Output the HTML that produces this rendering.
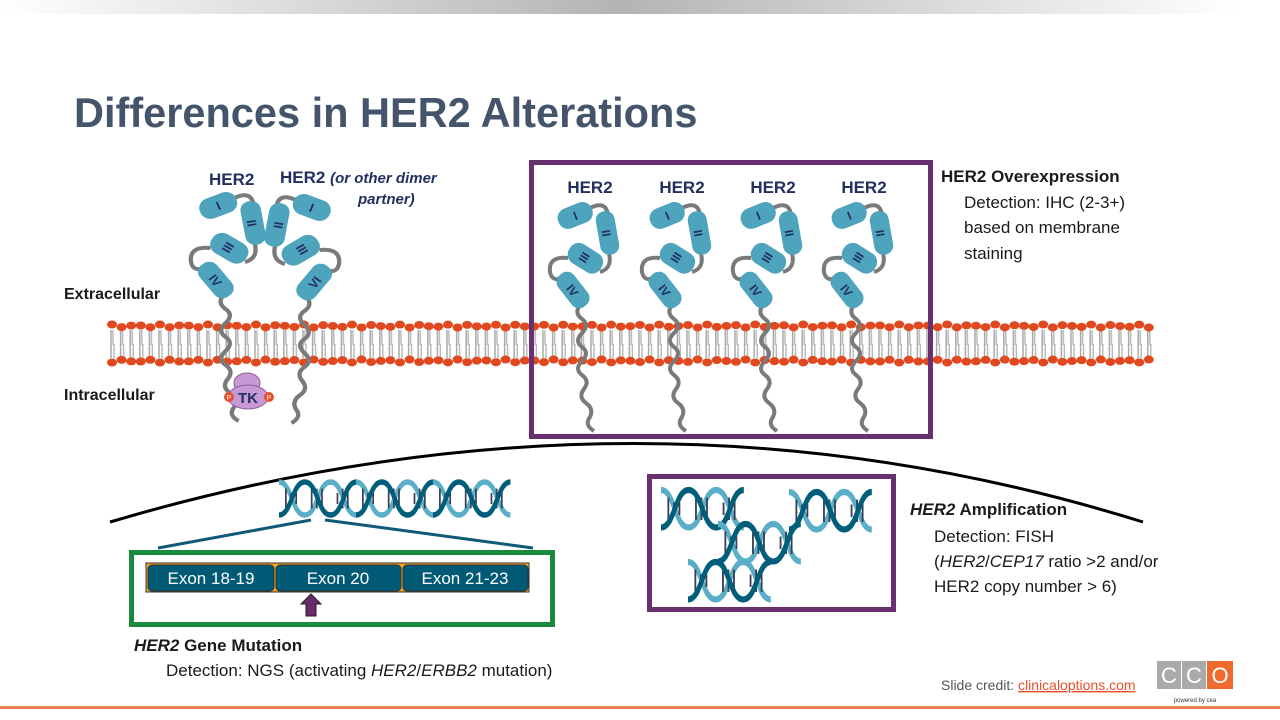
<!DOCTYPE html>
<html><head><meta charset="utf-8"><style>
body{margin:0;width:1280px;height:720px;overflow:hidden;background:#fff;font-family:"Liberation Sans",sans-serif}
svg{position:absolute;left:0;top:0}
</style></head><body>
<svg id="s" width="1280" height="720" viewBox="0 0 1280 720" xmlns="http://www.w3.org/2000/svg" font-family="Liberation Sans, sans-serif">
<defs>
<linearGradient id="tg" x1="0" x2="1"><stop offset="0" stop-color="#fff"/><stop offset="0.5" stop-color="#b4b4b4"/><stop offset="1" stop-color="#fff"/></linearGradient>
<g id="rec">
 <path d="M590 208 Q606 200 608 215 M608 250 Q614 268 600 272 M568 258 Q548 256 550 272 Q552 282 562 278" fill="none" stroke="#7a7a7a" stroke-width="4"/>
 <path d="M580 305 q-6 8 2 14 q8 6 0 14 q-8 8 0 14 q8 6 0 14 q-8 8 0 14 q8 6 2 14 q-6 8 2 14 q8 6 4 14 q-6 8 4 14" fill="none" stroke="#7a7a7a" stroke-width="4"/>
 <rect x="557" y="205" width="36" height="21" rx="10" fill="#4ea3bd" transform="rotate(-22 575 215)"/>
 <rect x="598" y="211" width="19" height="44" rx="9" fill="#4ea3bd" transform="rotate(-10 607 233)"/>
 <rect x="567" y="247" width="37" height="22" rx="10" fill="#4ea3bd" transform="rotate(32 585 258)"/>
 <rect x="563" y="270" width="20" height="40" rx="9" fill="#4ea3bd" transform="rotate(-38 573 290)"/>
 <text x="575" y="220" font-size="12" font-weight="bold" fill="#23305f" text-anchor="middle" transform="rotate(-22 575 215)">I</text>
 <text x="607" y="238" font-size="12" font-weight="bold" fill="#23305f" text-anchor="middle" transform="rotate(80 607 233)">II</text>
 <text x="585" y="263" font-size="12" font-weight="bold" fill="#23305f" text-anchor="middle" transform="rotate(122 585 258)">III</text>
 <text x="573" y="295" font-size="12" font-weight="bold" fill="#23305f" text-anchor="middle" transform="rotate(52 573 290)">IV</text>
</g>
<g id="dna">
 <path d="M0 0 C15 0 15 30 30 30 S45 0 60 0 S75 30 90 30" fill="none" stroke="#5aaec8" stroke-width="5"/>
 <g stroke="#3a3f55" stroke-width="2"><path d="M8 6v18M14 10v10M20 10v10M38 6v18M44 6v18M50 6v18M68 10v10M74 6v18M80 6v18"/></g>
 <path d="M0 30 C15 30 15 0 30 0 S45 30 60 30 S75 0 90 0" fill="none" stroke="#005e7a" stroke-width="5"/>
</g>
</defs>
<rect x="0" y="0" width="1240" height="14" fill="url(#tg)"/>
<text x="74" y="127" font-size="41.5" font-weight="bold" fill="#44546a">Differences in HER2 Alterations</text>
<g id="mem"></g>
<text x="64" y="299" font-size="16" font-weight="bold" fill="#1a1a1a">Extracellular</text>
<text x="64" y="400" font-size="16" font-weight="bold" fill="#1a1a1a">Intracellular</text>
<text x="209" y="185" font-size="17" font-weight="bold" fill="#23305f">HER2</text>
<text x="280" y="183" font-size="17" font-weight="bold" fill="#23305f">HER2 <tspan font-style="italic" font-size="15">(or other dimer</tspan></text>
<text x="358" y="204" font-size="15" font-weight="bold" font-style="italic" fill="#23305f">partner)</text>
<use href="#rec" transform="translate(218 205) scale(1.08 1.0) translate(-575 -215)"/>
<use href="#rec" transform="translate(312 207) scale(-1.08 1.0) translate(-575 -215)"/>
<g fill="#c79ad6" stroke="#8b5a9a" stroke-width="1"><ellipse cx="247" cy="383" rx="13" ry="10"/><ellipse cx="248" cy="397" rx="20" ry="12"/></g>
<text x="248" y="403" font-size="15" font-weight="bold" fill="#23305f" text-anchor="middle">TK</text>
<circle cx="229" cy="397" r="5" fill="#e8502a"/><circle cx="269" cy="397" r="5" fill="#e8502a"/>
<text x="229" y="400" font-size="7" fill="#fff" text-anchor="middle">P</text><text x="269" y="400" font-size="7" fill="#fff" text-anchor="middle">P</text>
<rect x="531.5" y="162.5" width="399" height="274" fill="none" stroke="#68306e" stroke-width="5"/>
<g font-size="17" font-weight="bold" fill="#23305f" text-anchor="middle"><text x="590" y="193">HER2</text><text x="682" y="193">HER2</text><text x="773" y="193">HER2</text><text x="864" y="193">HER2</text></g>
<use href="#rec"/><use href="#rec" transform="translate(92 0)"/><use href="#rec" transform="translate(183 0)"/><use href="#rec" transform="translate(274 0)"/>
<text x="941" y="182" font-size="17" font-weight="bold" fill="#1a1a1a">HER2 Overexpression</text>
<g font-size="17" fill="#1a1a1a"><text x="964" y="208">Detection: IHC (2-3+)</text><text x="964" y="233">based on membrane</text><text x="964" y="259">staining</text></g>
<path d="M110 522 Q640 365 1143 522" fill="none" stroke="#000" stroke-width="3"/>
<use href="#dna" transform="translate(279 482) scale(0.86 1.1)"/>
<use href="#dna" transform="translate(356 482) scale(0.86 1.1)"/>
<use href="#dna" transform="translate(433 482) scale(0.86 1.1)"/>
<path d="M158 548 L311 520 M325 520 L533 548" stroke="#0e5a78" stroke-width="3"/>
<rect x="131.5" y="552.5" width="421" height="72" fill="none" stroke="#1a8a3f" stroke-width="5"/>
<rect x="146" y="563" width="383" height="29" fill="#f5a623" stroke="#333" stroke-width="1"/>
<g fill="#005a75" stroke="#333" stroke-width="1"><rect x="148" y="565" width="126" height="26" rx="4"/><rect x="276" y="565" width="125" height="26" rx="4"/><rect x="403" y="565" width="125" height="26" rx="4"/></g>
<g font-size="17" fill="#fff" text-anchor="middle"><text x="211" y="584">Exon 18-19</text><text x="338" y="584">Exon 20</text><text x="465" y="584">Exon 21-23</text></g>
<path d="M311 594 L321 604 L316 604 L316 616 L306 616 L306 604 L301 604 Z" fill="#6a2a6e" stroke="#222" stroke-width="1"/>
<text x="134" y="651" font-size="17" font-weight="bold" fill="#1a1a1a"><tspan font-style="italic">HER2</tspan> Gene Mutation</text>
<text x="166" y="676" font-size="17" fill="#1a1a1a">Detection: NGS (activating <tspan font-style="italic">HER2</tspan>/<tspan font-style="italic">ERBB2</tspan> mutation)</text>
<rect x="649.5" y="476.5" width="244" height="133" fill="none" stroke="#68306e" stroke-width="5"/>
<use href="#dna" transform="translate(661 490) scale(0.92 1.25)"/>
<use href="#dna" transform="translate(789 492) scale(0.92 1.25)"/>
<use href="#dna" transform="translate(718 524) scale(0.92 1.25)"/>
<use href="#dna" transform="translate(688 562) scale(0.92 1.25)"/>
<text x="910" y="515" font-size="17" font-weight="bold" fill="#1a1a1a"><tspan font-style="italic">HER2</tspan> Amplification</text>
<g font-size="17" fill="#1a1a1a"><text x="934" y="542">Detection: FISH</text><text x="934" y="567">(<tspan font-style="italic">HER2</tspan>/<tspan font-style="italic">CEP17</tspan> ratio &gt;2 and/or</text><text x="934" y="592">HER2 copy number &gt; 6)</text></g>
<text x="941" y="690" font-size="14" fill="#555">Slide credit: <tspan fill="#e8502a" text-decoration="underline">clinicaloptions.com</tspan></text>
<rect x="1157" y="661" width="24" height="28" fill="#a9aaab"/><rect x="1182" y="661" width="24" height="28" fill="#a9aaab"/><rect x="1207" y="661" width="26" height="28" fill="#ef6a2d"/>
<g font-size="22" fill="#fff" text-anchor="middle"><text x="1169" y="683">C</text><text x="1194" y="683">C</text><text x="1220" y="683">O</text></g>
<text x="1195" y="702" font-size="6" fill="#333" text-anchor="middle">powered by cea</text>
<rect x="0" y="706" width="1280" height="3" fill="#f08050"/>
</svg>
<script>
var m=document.getElementById('mem'),h='';
for(var x=110;x<1155;x+=9.6){var j=(Math.sin(x*1.7)*1.5);
h+='<line x1="'+(x+1)+'" y1="330" x2="'+(x+1)+'" y2="345" stroke="#aaa" stroke-width="1.5"/><line x1="'+(x+3)+'" y1="330" x2="'+(x+3)+'" y2="345" stroke="#bbb" stroke-width="1.5"/>';
h+='<line x1="'+(x+1)+'" y1="344" x2="'+(x+1)+'" y2="358" stroke="#aaa" stroke-width="1.5"/><line x1="'+(x+4)+'" y1="344" x2="'+(x+4)+'" y2="358" stroke="#bbb" stroke-width="1.5"/>';
h+='<ellipse cx="'+(x+2)+'" cy="'+(326+j)+'" rx="5" ry="4" fill="#e0491f"/>';
h+='<ellipse cx="'+(x+2)+'" cy="'+(361-j)+'" rx="5" ry="4" fill="#e0491f"/>';}
m.innerHTML=h;
</script>
</body></html>
